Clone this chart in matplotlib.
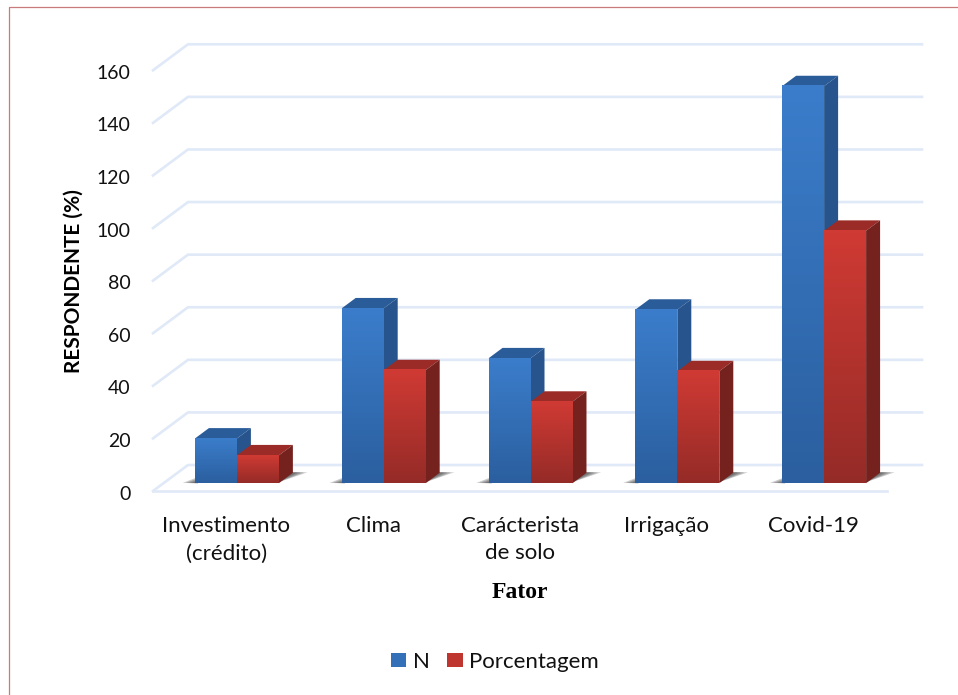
import numpy as np
import matplotlib
matplotlib.use('Agg')
import matplotlib.pyplot as plt
from matplotlib.colors import LinearSegmentedColormap
from matplotlib.lines import Line2D
from matplotlib.patches import Patch, Polygon
from matplotlib.transforms import ScaledTranslation

categories = ['Investimento\n(crédito)', 'Clima', 'Carácterista\nde solo', 'Irrigação', 'Covid-19']
n_values = [17, 66.5, 47.5, 66, 151]
pct_values = [10.6, 43, 31, 42.6, 96]
y_ticks = [0, 20, 40, 60, 80, 100, 120, 140, 160]

BLUE = ('#3b7dcb', '#2b5f9f', '#2a5c9a', '#27548c')  # top of front, bottom of front, roof, side
RED = ('#d03a34', '#952b27', '#9a2b27', '#75211e')
GRID = '#e0e9f7'
BORDER = '#c97a7a'

plt.rcParams['font.family'] = ['Lato', 'DejaVu Sans']

W, H = 958, 695
fig = plt.figure(figsize=(W / 100, H / 100), dpi=100)
# the axes rectangle is the front plane of the fake 3D box
ax = fig.add_axes([153 / W, (H - 491) / H, 734 / W, 447 / H])
ax.set_xlim(-0.5, 4.5)
ax.set_ylim(0, 170)

# one unit of depth moves this far on the screen
DEPTH_X = 35 / (734 / 5)
DEPTH_Y = 26 / (447 / 170)
BAR_W = 0.286


def proj(x, v, d):
    return x + d * DEPTH_X, v + d * DEPTH_Y


# back wall and left wall lines
for v in y_ticks:
    x0, y0 = proj(-0.5, v, 0)
    x1, y1 = proj(-0.5, v, 1)
    x2, y2 = proj(4.5, v, 1)
    ax.plot([x0, x1, x2], [y0, y1, y2], color=GRID, lw=1.9, clip_on=False, zorder=1)
ax.plot([-0.5, 4.5], [0, 0], color=GRID, lw=1.9, clip_on=False, zorder=1)


def draw_shadow(x_left, x_right):
    # soft shadow on the floor, stacked polygons to fake the blur
    for grow in [1.0, 0.75, 0.5, 0.28]:
        left = [proj(x_left - 0.085 * grow, 0, 0.31), proj(x_left + 0.02, 0, 0.3),
                proj(x_left + 0.02, 0, 0.3 + 0.5 * grow)]
        right = [proj(x_right - 0.02, 0, 0.3), proj(x_right + 0.095 * grow, 0, 0.72),
                 proj(x_right - 0.02, 0, 0.72)]
        for pts in [left, right]:
            ax.add_patch(Polygon(pts, closed=True, fc='#3c3c3c', ec='none', alpha=0.27,
                                 clip_on=False, zorder=2))


def draw_bar(x_left, value, colors, z):
    x_right = x_left + BAR_W
    d0, d1 = 0.3, 0.7

    roof = [proj(x_left, value, d0), proj(x_right, value, d0),
            proj(x_right, value, d1), proj(x_left, value, d1)]
    side = [proj(x_right, 0, d0), proj(x_right, value, d0),
            proj(x_right, value, d1), proj(x_right, 0, d1)]
    ax.add_patch(Polygon(roof, closed=True, fc=colors[2], ec='none', clip_on=False, zorder=z))
    ax.add_patch(Polygon(side, closed=True, fc=colors[3], ec='none', clip_on=False, zorder=z))

    fx0, fy0 = proj(x_left, 0, d0)
    fx1, fy1 = proj(x_right, value, d0)
    cmap = LinearSegmentedColormap.from_list('front', [colors[0], colors[1]])
    grad = np.linspace(0, 1, 64).reshape(-1, 1)
    ax.imshow(grad, cmap=cmap, extent=[fx0, fx1, fy0, fy1], origin='upper', aspect='auto',
              interpolation='bilinear', clip_on=False, zorder=z + 0.1)


# each group is drawn blue then red so the red front covers the blue side
for i in range(len(categories)):
    draw_shadow(i - BAR_W, i + BAR_W)
    draw_bar(i - BAR_W, n_values[i], BLUE, 3 + i)
    draw_bar(i, pct_values[i], RED, 3.5 + i)

ax.set_xlim(-0.5, 4.5)
ax.set_ylim(0, 170)

for spine in ax.spines.values():
    spine.set_visible(False)
ax.patch.set_alpha(0)

ax.set_yticks(y_ticks)
ax.set_xticks(range(len(categories)))
ax.set_xticklabels(categories, linespacing=1.46)
ax.tick_params(axis='y', length=0, pad=16, labelsize=14, labelcolor='#111111')
ax.tick_params(axis='x', length=0, pad=18, labelsize=16, labelcolor='#111111')

# numbers sit a little lower than the front lines
nudge = ScaledTranslation(0, -1.5 / 100, fig.dpi_scale_trans)
for label in ax.get_yticklabels():
    label.set_transform(label.get_transform() + nudge)

ax.set_ylabel('RESPONDENTE (%)', fontsize=15, fontweight='bold', color='black')
ax.yaxis.set_label_coords((84 - 153) / 734, 0.47)
ax.set_xlabel('Fator', fontsize=17, fontweight='bold', family='Liberation Serif', color='black')
ax.xaxis.set_label_coords(0.5, -(582 - 491) / 447)

handles = [Patch(fc='#3470b8', ec='none', label='N'), Patch(fc='#bf3530', ec='none', label='Porcentagem')]
fig.legend(handles=handles, loc='center', bbox_to_anchor=(495 / W, (H - 662) / H), ncol=2,
           frameon=False, fontsize=16, handlelength=0.68, handleheight=0.6,
           handletextpad=0.3, columnspacing=0.8, labelcolor='#111111')

# thin frame of the page the chart was cut from
fig.add_artist(Line2D([9 / W, 9 / W, 1], [0, (H - 7) / H, (H - 7) / H], color=BORDER, lw=0.9))

fig.savefig('out.png', dpi=100)
